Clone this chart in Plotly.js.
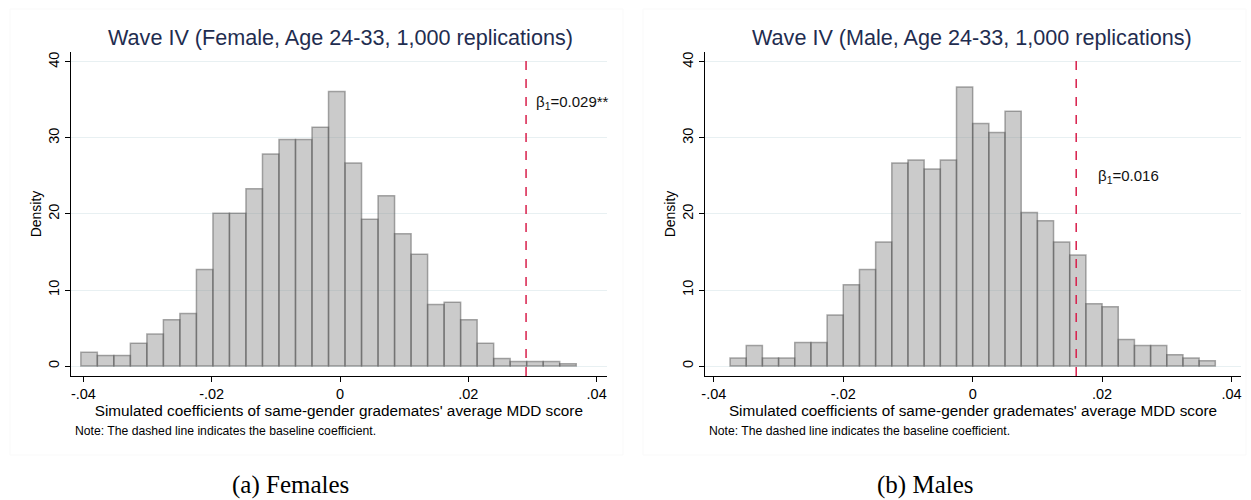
<!DOCTYPE html>
<html>
<head>
<meta charset="utf-8">
<script src="https://cdn.plot.ly/plotly-3.0.1.min.js"></script>
<style>
  html, body { margin: 0; padding: 0; background: #ffffff; }
  #chart { width: 1251px; height: 500px; }
</style>
</head>
<body>
<div id="chart"></div>
<script>
// ---------- data ----------
const tickVals = [-0.04, -0.02, 0, 0.02, 0.04];
const tickText = ['-.04', '-.02', '0', '.02', '.04'];
const densityTicks = [0, 10, 20, 30, 40];

// Females: 30 bins
const femaleBinStart = -0.0404;
const femaleBinWidth = 0.002574;
const femaleDensity = [1.8, 1.4, 1.4, 3.0, 4.2, 6.1, 6.9, 12.7, 20.1, 20.1,
                       23.3, 27.9, 29.8, 29.8, 31.4, 36.1, 26.7, 19.3, 22.4, 17.4,
                       14.7, 8.1, 8.4, 6.1, 3.0, 1.0, 0.6, 0.6, 0.6, 0.3];
const femaleBaseline = 0.029;
const femaleLabel = 'β<sub>1</sub>=0.029**';

// Males: 30 bins
const maleBinStart = -0.0375;
const maleBinWidth = 0.0025;
const maleDensity = [1.05, 2.7, 1.05, 1.05, 3.1, 3.1, 6.7, 10.7, 12.7, 16.3,
                     26.7, 27.1, 25.9, 27.1, 36.7, 31.9, 30.7, 33.5, 20.2, 19.1,
                     16.3, 14.6, 8.2, 7.8, 3.5, 2.7, 2.7, 1.5, 1.05, 0.7];
const maleBaseline = 0.016;
const maleLabel = 'β<sub>1</sub>=0.016';

const femaleTitle = 'Wave IV (Female, Age 24-33, 1,000 replications)';
const maleTitle = 'Wave IV (Male, Age 24-33, 1,000 replications)';
const xTitle = "Simulated coefficients of same-gender grademates' average MDD score";
const yTitle = 'Density';
const noteText = 'Note: The dashed line indicates the baseline coefficient.';
const captionA = '(a) Females';
const captionB = '(b) Males';

// ---------- build ----------
function centers(start, width, n) {
  const c = [];
  for (let i = 0; i < n; i++) c.push(start + (i + 0.5) * width);
  return c;
}

const W = 1251, H = 500;
const px = v => v / W;
const py = v => (H - v) / H;

const barFill = 'rgba(140,140,140,0.45)';
const barLine = 'rgba(70,70,70,0.45)';
const sans = 'Liberation Sans, Arial, sans-serif';
const redLine = '#d81e4a';

const traces = [
  {
    type: 'bar', xaxis: 'x', yaxis: 'y',
    x: centers(femaleBinStart, femaleBinWidth, femaleDensity.length),
    y: femaleDensity, width: femaleBinWidth,
    marker: { color: barFill, line: { color: barLine, width: 1.5 } },
    hoverinfo: 'x+y', showlegend: false
  },
  {
    type: 'bar', xaxis: 'x2', yaxis: 'y2',
    x: centers(maleBinStart, maleBinWidth, maleDensity.length),
    y: maleDensity, width: maleBinWidth,
    marker: { color: barFill, line: { color: barLine, width: 1.5 } },
    hoverinfo: 'x+y', showlegend: false
  }
];

function xAxis(domain, range) {
  return {
    domain: domain, range: range,
    showline: true, linecolor: '#000', linewidth: 1,
    ticks: 'outside', ticklen: 5, tickcolor: '#000', tickwidth: 1,
    tickvals: tickVals, ticktext: tickText,
    showgrid: false, zeroline: false,
    tickfont: { family: sans, size: 14.5, color: '#000' },
    title: { text: xTitle, font: { family: sans, size: 15.3, color: '#000' }, standoff: 0 }
  };
}
function yAxis(domain, range) {
  return {
    domain: domain, range: range,
    showline: true, linecolor: '#000', linewidth: 1,
    ticks: 'outside', ticklen: 5, tickcolor: '#000', tickwidth: 1,
    tickvals: densityTicks, tickangle: -90,
    showgrid: true, gridcolor: '#e8f0f2', gridwidth: 1, zeroline: false,
    tickfont: { family: sans, size: 14.5, color: '#000' },
    title: { text: yTitle, font: { family: sans, size: 14, color: '#000' }, standoff: 1 }
  };
}

const yDom = [py(376), py(52)];

const layout = {
  width: W, height: H,
  margin: { l: 0, r: 0, t: 0, b: 0 },
  paper_bgcolor: '#ffffff', plot_bgcolor: 'rgba(0,0,0,0)',
  bargap: 0,
  xaxis: xAxis([px(71), px(606.7)], [-0.04193, 0.04157]),
  yaxis: yAxis(yDom, [-1.31, 41.3]),
  xaxis2: Object.assign(xAxis([px(705), px(1241)], [-0.04137, 0.04147]), { anchor: 'y2' }),
  yaxis2: Object.assign(yAxis(yDom, [-1.31, 41.3]), { anchor: 'x2' }),
  shapes: [
    { type: 'rect', xref: 'paper', yref: 'paper', x0: px(10), x1: px(623), y0: py(455), y1: py(9),
      line: { color: '#f9f9f9', width: 1 }, fillcolor: 'rgba(0,0,0,0)', layer: 'below' },
    { type: 'rect', xref: 'paper', yref: 'paper', x0: px(643), x1: px(1246), y0: py(455), y1: py(9),
      line: { color: '#f9f9f9', width: 1 }, fillcolor: 'rgba(0,0,0,0)', layer: 'below' },
    { type: 'line', xref: 'x', yref: 'y domain', x0: femaleBaseline, x1: femaleBaseline, y0: 0, y1: 1,
      line: { color: redLine, width: 1.5, dash: 'dash' } },
    { type: 'line', xref: 'x2', yref: 'y2 domain', x0: maleBaseline, x1: maleBaseline, y0: 0, y1: 1,
      line: { color: redLine, width: 1.5, dash: 'dash' } }
  ],
  annotations: [
    { xref: 'paper', yref: 'paper', x: px(340), y: py(38), xanchor: 'center', yanchor: 'middle',
      text: femaleTitle, showarrow: false, font: { family: sans, size: 21.6, color: '#1f2d50' } },
    { xref: 'paper', yref: 'paper', x: px(972), y: py(38), xanchor: 'center', yanchor: 'middle',
      text: maleTitle, showarrow: false, font: { family: sans, size: 21.6, color: '#1f2d50' } },
    { xref: 'x', yref: 'y', x: 0.0303, y: 34.7, xanchor: 'left', yanchor: 'middle',
      text: femaleLabel, showarrow: false, font: { family: sans, size: 15, color: '#111' } },
    { xref: 'x2', yref: 'y2', x: 0.0191, y: 24.9, xanchor: 'left', yanchor: 'middle',
      text: maleLabel, showarrow: false, font: { family: sans, size: 15, color: '#111' } },
    { xref: 'paper', yref: 'paper', x: px(73), y: py(431), xanchor: 'left', yanchor: 'middle',
      text: noteText, showarrow: false, font: { family: sans, size: 12.2, color: '#000' } },
    { xref: 'paper', yref: 'paper', x: px(707), y: py(431), xanchor: 'left', yanchor: 'middle',
      text: noteText, showarrow: false, font: { family: sans, size: 12.2, color: '#000' } },
    { xref: 'paper', yref: 'paper', x: px(290), y: py(485), xanchor: 'center', yanchor: 'middle',
      borderpad: 0, text: captionA, showarrow: false,
      font: { family: 'Liberation Serif, serif', size: 25, color: '#000' } },
    { xref: 'paper', yref: 'paper', x: px(925), y: py(485), xanchor: 'center', yanchor: 'middle',
      borderpad: 0, text: captionB, showarrow: false,
      font: { family: 'Liberation Serif, serif', size: 25, color: '#000' } }
  ]
};

Plotly.newPlot('chart', traces, layout, { staticPlot: true, displayModeBar: false });
</script>
</body>
</html>
